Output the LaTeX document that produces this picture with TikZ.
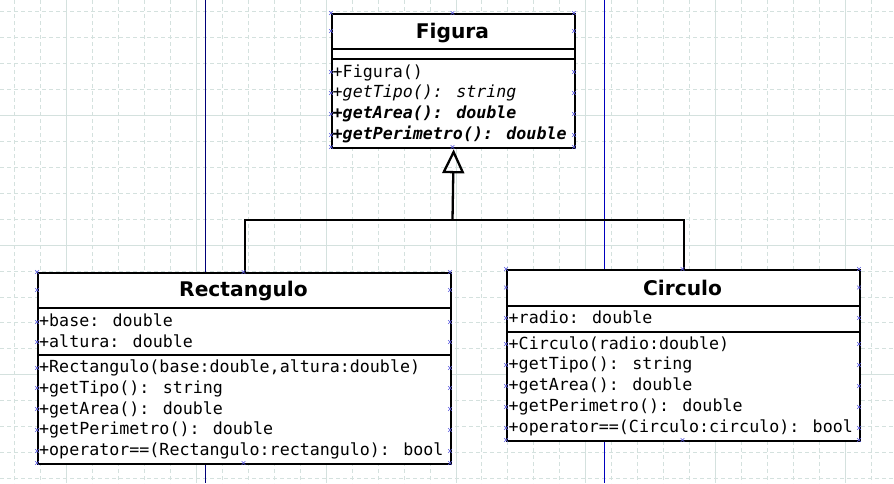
\documentclass[tikz,border=0pt]{standalone}
\usepackage{fontspec}
\newfontfamily\monof{DejaVu Sans Mono}[ItalicFont={DejaVu Sans Mono Oblique},BoldFont={DejaVu Sans Mono Bold},BoldItalicFont={DejaVu Sans Mono Bold Oblique}]
\newfontfamily\titlef{DejaVu Sans}[BoldFont={DejaVu Sans Bold}]
\usetikzlibrary{arrows.meta}
\definecolor{gridc}{RGB}{212,225,222}
\definecolor{navyl}{RGB}{0,0,120}
\definecolor{bluel}{RGB}{0,0,190}
\definecolor{cpc}{RGB}{90,90,225}
\begin{document}
\begin{tikzpicture}[x=1pt,y=-1pt,
  classbox/.style={draw=black,fill=white,line width=2.3pt,inner sep=0pt,anchor=north west},
  divline/.style={draw=black,line width=2.3pt},
  rowtext/.style={inner sep=0pt,anchor=base west,font=\monof\fontsize{16.65}{20}\selectfont},
  titletext/.style={inner sep=0pt,anchor=base,font=\titlef\bfseries\fontsize{20.2}{24}\selectfont},
  conn/.style={draw=black,line width=2.3pt},
  gridd/.style={draw=gridc,line width=0.9pt,dash pattern=on 4pt off 3pt},
  grids/.style={draw=gridc,line width=0.9pt},
  cpm/.style={draw=cpc,line width=0.6pt}]
\useasboundingbox (0,0) rectangle (894,483);
\fill[white] (0,0) rectangle (894,483);
% grid
\foreach \k in {0,...,34}{
  \pgfmathsetmacro{\gx}{14.8+25.95*\k}
  \pgfmathtruncatemacro{\m}{mod(\k,5)}
  \ifnum\m=2 \draw[grids] (\gx,0) -- (\gx,483); \else \draw[gridd] (\gx,0) -- (\gx,483); \fi
}
\foreach \k in {0,...,18}{
  \pgfmathsetmacro{\gy}{11.5+25.95*\k}
  \pgfmathtruncatemacro{\m}{mod(\k,5)}
  \ifnum\m=4 \draw[grids] (0,\gy) -- (894,\gy); \else \draw[gridd] (0,\gy) -- (894,\gy); \fi
}
% page lines
\draw[navyl,line width=1.2pt] (205.5,0) -- (205.5,483);
\draw[bluel,line width=1.2pt] (604.3,0) -- (604.3,483);

% Figura
\node[classbox,minimum width=243pt,minimum height=134pt] (fig) at (331,13) {};
\draw[divline] (331,49) -- (574,49);
\draw[divline] (331,59) -- (574,59);
\node[titletext] (figt) at (452.5,38.3) {Figura};
\node[rowtext] (f1) at (332.5,77.0) {+Figura()};
\node[rowtext] (f2) at (332.5,97.7) {\itshape +getTipo(): string};
\node[rowtext] (f3) at (332.5,118.4) {\bfseries\itshape +getArea(): double};
\node[rowtext] (f4) at (332.5,139.1) {\bfseries\itshape +getPerimetro(): double};

% Rectangulo
\node[classbox,minimum width=413pt,minimum height=191pt] (rect) at (37,272) {};
\draw[divline] (37,308) -- (450,308);
\draw[divline] (37,355) -- (450,355);
\node[titletext] (rectt) at (243.5,296.7) {Rectangulo};
\node[rowtext] (r1) at (39,326.8) {+base: double};
\node[rowtext] (r2) at (39,347.5) {+altura: double};
\node[rowtext] (r3) at (39,372.8) {+Rectangulo(base:double,altura:double)};
\node[rowtext] (r4) at (39,393.5) {+getTipo(): string};
\node[rowtext] (r5) at (39,414.2) {+getArea(): double};
\node[rowtext] (r6) at (39,434.9) {+getPerimetro(): double};
\node[rowtext] (r7) at (39,455.6) {+operator==(Rectangulo:rectangulo): bool};

% Circulo
\node[classbox,minimum width=353pt,minimum height=171pt] (circ) at (506,269) {};
\draw[divline] (506,306) -- (859,306);
\draw[divline] (506,332) -- (859,332);
\node[titletext] (circt) at (682.5,295.0) {Circulo};
\node[rowtext] (c1) at (508.5,323.2) {+radio: double};
\node[rowtext] (c2) at (508.5,349.2) {+Circulo(radio:double)};
\node[rowtext] (c3) at (508.5,369.9) {+getTipo(): string};
\node[rowtext] (c4) at (508.5,390.6) {+getArea(): double};
\node[rowtext] (c5) at (508.5,411.3) {+getPerimetro(): double};
\node[rowtext] (c6) at (508.5,432.0) {+operator==(Circulo:circulo): bool};

% generalization
\coordinate (j) at (452.5,220);
\draw[conn] (rect.north) |- (j) -| (circ.north);
\draw[conn,-{Triangle[open,length=24pt,width=22pt]}] (j) -- (fig.south);

% connection point markers
\foreach \x/\y in {331/13,574/13,452.5/13,331/147,574/147,452.5/147,
  331/31,574/31,331/72,574/72,331/93,574/93,331/114,574/114,331/135,574/135,
  37/272,450/272,243.5/272,37/463,450/463,243.5/463,
  37/290,450/290,37/322,450/322,37/342,450/342,37/368,450/368,37/388,450/388,
  37/409,450/409,37/430,450/430,37/451,450/451,
  506/269,859/269,682.5/269,506/440,859/440,682.5/440,
  506/287.5,859/287.5,506/318,859/318,506/344,859/344,506/365,859/365,
  506/386,859/386,506/407,859/407,506/428,859/428}{
  \draw[cpm] (\x-1.8,\y-1.8) -- (\x+1.8,\y+1.8) (\x-1.8,\y+1.8) -- (\x+1.8,\y-1.8);
}
\end{tikzpicture}
\end{document}
